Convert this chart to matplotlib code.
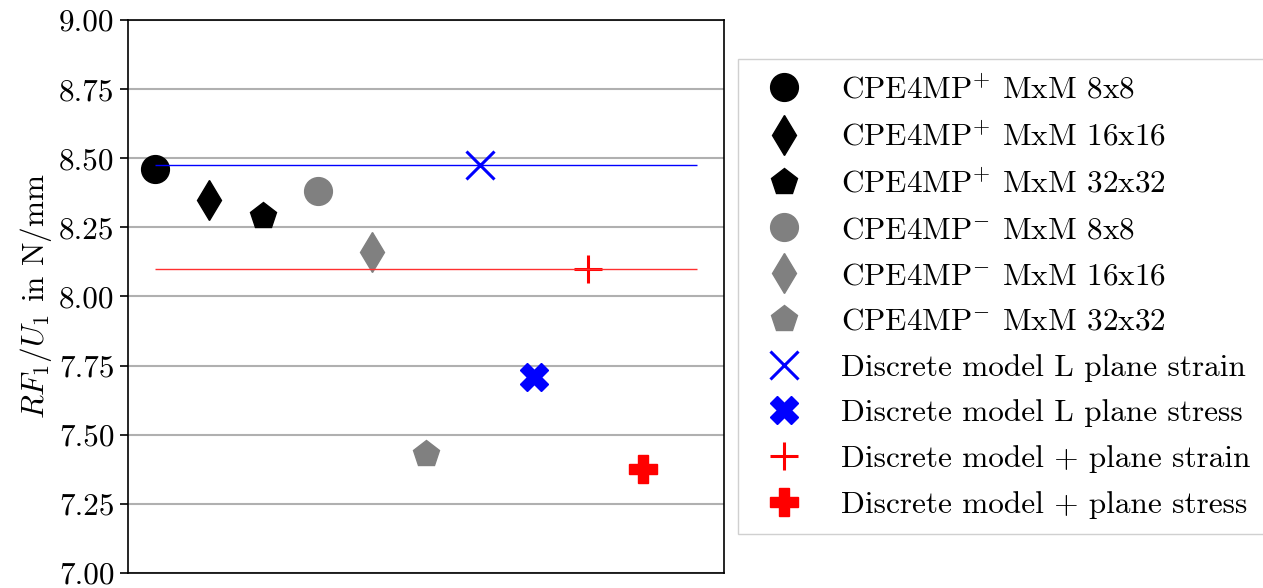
import numpy as np
import matplotlib
matplotlib.use("Agg")
import matplotlib.pyplot as plt

plt.rcParams['font.family'] = 'serif'
plt.rcParams['font.serif'] = ['cmr10', 'DejaVu Serif']
plt.rcParams['mathtext.fontset'] = 'cm'
plt.rcParams['axes.formatter.use_mathtext'] = True
plt.rcParams['font.size'] = 22.5

labels = [
    r"CPE4MP$^{+}$ MxM 8x8",
    r"CPE4MP$^{+}$ MxM 16x16",
    r"CPE4MP$^{+}$ MxM 32x32",
    r"CPE4MP$^{-}$ MxM 8x8",
    r"CPE4MP$^{-}$ MxM 16x16",
    r"CPE4MP$^{-}$ MxM 32x32",
    "Discrete model L plane strain",
    "Discrete model L plane stress",
    "Discrete model + plane strain",
    "Discrete model + plane stress",
]
stiffness = [8.46, 8.35, 8.29, 8.38, 8.16, 7.43, 8.475, 7.71, 8.10, 7.375]
markers = ['o', 'd', 'p', 'o', 'd', 'p', 'x', 'X', '+', 'P']
colors = ['black', 'black', 'black', 'gray', 'gray', 'gray',
          'blue', 'blue', 'red', 'red']

# reference levels: discrete plane strain results
ref_L = stiffness[6]
ref_plus = stiffness[8]

fig = plt.figure(figsize=(12.63, 5.88), dpi=100)
ax = fig.add_axes([0.1013, 0.0255, 0.4719, 0.9405])

for i, (lab, val, m, c) in enumerate(zip(labels, stiffness, markers, colors)):
    mew = 2.2 if m in ('x', '+') else 1.0
    ax.plot([i], [val], linestyle='none', marker=m, color=c,
            markersize=20, markeredgewidth=mew, label=lab, zorder=3)

ax.hlines(ref_L, 0, len(labels), color='blue', linewidth=1.0, zorder=4)
ax.hlines(ref_plus, 0, len(labels), color='#ff3030', linewidth=1.0, zorder=4)

ax.set_ylim(7.0, 9.0)
ax.set_yticks(np.arange(7.0, 9.01, 0.25))
ax.set_yticklabels([f"{t:.2f}" for t in np.arange(7.0, 9.01, 0.25)])
ax.set_xticks([])
ax.yaxis.grid(True, color='#b0b0b0', linewidth=1.5)
ax.set_axisbelow(True)
ax.tick_params(axis='y', length=6, width=1.2)
for sp in ax.spines.values():
    sp.set_linewidth(1.2)
ax.set_ylabel(r"$RF_1/U_1$ in N/mm")

ax.legend(loc='center left', bbox_to_anchor=(0.584, 0.495),
          bbox_transform=fig.transFigure, fancybox=False,
          edgecolor='#d0d0d0', framealpha=1.0, labelspacing=0.57,
          handlelength=2.0, borderpad=0.5, borderaxespad=0)

fig.savefig("out.png", dpi=100)
